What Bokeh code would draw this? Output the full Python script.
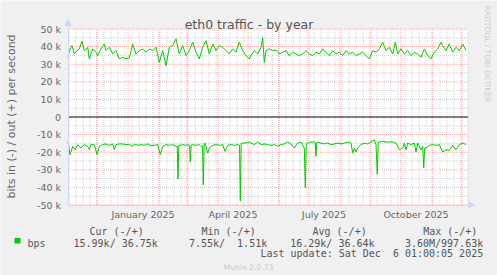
import math
import pandas as pd
from bokeh.plotting import figure
from bokeh.models import (Range1d, FixedTicker, Label, Arrow,
                          NormalHead, BoxAnnotation, ColumnDataSource)
from bokeh.embed import file_html
from bokeh.resources import INLINE

# ---------------- data ----------------
START = "2024-11-02"
N_DAYS = 400

out_day = [0, 1.3, 3, 4, 6.3, 9, 11.3, 14, 16.3, 19.7, 21.3, 24.7, 28, 29.7, 33, 36.3, 38,
           41.3, 44.7, 48, 51.3, 54.7, 58, 61.3, 64.7, 68, 71.3, 74.7, 78, 81.3, 84.7, 88,
           91.3, 94.7, 98, 101.3, 104.7, 108, 111.3, 114.7, 118, 121.3, 124.7, 128, 131.3,
           134.7, 138, 141.3, 144.7, 148, 151.3, 154.7, 158, 161.3, 164.7, 168, 171.3, 174.7,
           178, 181.3, 183, 186.3, 189.7, 193, 194.7, 196.3, 198, 201.3, 204.7, 208, 211.3,
           214.7, 218, 221.3, 224.7, 228, 231.3, 234.7, 238, 241.3, 244.7, 248, 251.3, 254.7,
           258, 261.3, 264.7, 268, 271.3, 274.7, 278, 281.3, 284.7, 288, 291.3, 294.7, 298,
           301.3, 304.7, 308, 311.3, 314.7, 318, 321.3, 324.7, 327.3, 329.7, 333, 336.3,
           339.7, 343, 346.3, 349.7, 353, 356.3, 359.7, 363, 366.3, 369.7, 373, 374.7, 378,
           381.3, 384.7, 388, 391.3, 394.7, 398]
out_kbps = [33.9, 37.7, 39.6, 40.6, 35.8, 37.7, 38.7, 43.0, 37.7, 39.6, 33.0, 38.7, 36.8, 34.9,
            38.7, 41.5, 37.7, 39.6, 35.8, 37.7, 33.0, 33.9, 33.0, 33.5, 41.5, 35.8, 37.7, 38.7,
            36.8, 38.7, 37.7, 39.6, 31.0, 37.7, 29.1, 39.6, 40.6, 44.4, 35.8, 40.6, 34.9, 37.7,
            42.5, 36.8, 33.0, 39.6, 43.4, 35.8, 41.5, 37.7, 40.6, 39.6, 37.7, 35.8, 38.7, 36.8,
            42.5, 37.7, 34.9, 33.0, 34.9, 37.7, 35.8, 39.6, 45.0, 31.0, 37.7, 38.7, 37.7, 38.1,
            35.8, 36.8, 37.7, 34.9, 36.8, 35.8, 34.9, 35.8, 37.7, 35.8, 34.9, 36.8, 35.8, 38.7,
            36.8, 34.9, 37.7, 35.8, 36.8, 34.9, 37.7, 35.8, 36.8, 34.9, 35.8, 36.8, 34.9, 33.0,
            37.7, 36.8, 38.7, 42.5, 37.7, 39.6, 35.8, 42.5, 35.8, 38.7, 35.8, 37.7, 34.9, 36.8,
            35.8, 33.9, 38.7, 34.9, 33.0, 36.8, 38.7, 42.5, 40.6, 37.7, 41.5, 36.8, 39.6, 37.7,
            41.5, 37.7]

in_day = [0, 2, 4.7, 7, 9.7, 13, 16.3, 19.7, 21.3, 23, 26.3, 29, 31.3, 34.7, 38, 41.3, 44.7,
          46.3, 48, 51.3, 54.7, 58, 61.3, 64.7, 66.3, 69.7, 73, 76.3, 79.7, 83, 86.3, 89.7,
          92.3, 94.7, 98, 101.3, 104.7, 108, 109.2, 110, 110.8, 112, 114.7, 118, 120.3, 121.5,
          122.3, 123.2, 124.7, 128, 131.3, 133, 134.5, 135.3, 136.2, 137, 139.7, 141.3, 144.7,
          148, 151.3, 154.7, 157, 159.7, 163, 166.3, 169.7, 171.5, 172.3, 173.2, 174.7, 178,
          181.3, 183, 186.3, 189.7, 193, 196.3, 199.7, 203, 206.3, 209.7, 213, 216.3, 219.7,
          223, 226.3, 229.7, 233, 236.3, 237.3, 238.3, 239.7, 243, 246.3, 247.2, 248, 248.8,
          249.7, 253, 256.3, 259.7, 263, 266.3, 269.7, 273, 276.3, 279.7, 283, 284.7, 286.3,
          288, 289.7, 293, 296.3, 299.7, 303, 306.3, 308, 309.3, 310.3, 311.3, 314.7, 318,
          321.3, 324.7, 328, 331.3, 334.7, 336.3, 338, 339.7, 343, 346.3, 348, 349.7, 353,
          354.7, 355.7, 356.7, 358, 361.3, 364.7, 368, 371.3, 374.7, 378, 381.3, 384.7, 388,
          391.3, 394.7, 398]
in_kbps = [13.8, 21.4, 16.7, 18.6, 15.7, 17.6, 15.7, 16.7, 18.6, 15.7, 15.7, 21.4, 16.7, 15.7,
           15.3, 16.1, 15.3, 18.6, 15.7, 15.3, 15.3, 15.7, 15.7, 16.7, 15.3, 16.1, 15.7, 16.1,
           15.3, 16.3, 16.1, 15.7, 21.4, 16.7, 15.7, 16.1, 15.7, 16.7, 16.4, 35.1, 16.2, 16.1,
           15.7, 16.1, 15.7, 16.0, 25.6, 16.0, 15.7, 16.1, 15.7, 16.7, 16.5, 38.6, 15.0, 14.8,
           20.5, 17.6, 16.1, 15.7, 16.1, 15.7, 19.5, 16.1, 15.7, 16.1, 15.7, 16.0, 47.7, 15.0,
           14.8, 14.8, 14.2, 14.8, 15.7, 14.2, 15.7, 15.3, 15.7, 16.1, 15.7, 16.7, 15.7, 15.3,
           14.2, 15.3, 17.6, 14.8, 14.2, 17.6, 40.1, 15.0, 14.8, 14.2, 14.2, 14.5, 22.4, 14.5,
           14.2, 14.8, 15.3, 14.8, 15.7, 15.3, 14.8, 15.3, 14.8, 14.2, 14.8, 20.5, 17.6, 19.9,
           17.6, 15.7, 14.8, 15.3, 14.2, 12.9, 15.7, 32.5, 14.2, 14.2, 13.8, 14.2, 14.2, 14.2,
           14.8, 18.6, 17.6, 14.8, 18.6, 14.8, 15.7, 14.8, 19.9, 14.8, 18.6, 16.7, 29.0, 17.6,
           17.6, 16.1, 15.7, 16.1, 15.7, 19.9, 18.6, 19.1, 16.1, 18.6, 15.7, 14.8, 15.7]

y_tick_k = [-50, -40, -30, -20, -10, 0, 10, 20, 30, 40, 50]
y_tick_labels = ["-50 k", "-40 k", "-30 k", "-20 k", "-10 k", "0",
                 "10 k", "20 k", "30 k", "40 k", "50 k"]
x_label_months = ["2025-01-01", "2025-04-01", "2025-07-01", "2025-10-01"]
x_label_texts = ["January 2025", "April 2025", "July 2025", "October 2025"]

title_text = "eth0 traffic - by year"
y_label_text = "bits in (-) / out (+) per second"
series_name = "bps"
legend_headers = ["Cur (-/+)", "Min (-/+)", "Avg (-/+)", "Max (-/+)"]
legend_values = ["15.99k/ 36.75k", "7.55k/\u00a0 1.51k", "16.29k/ 36.64k", "3.60M/997.63k"]
last_update_text = "Last update: Sat Dec \u00a06 01:00:05 2025"
watermark_text = "RRDTOOL / TOBI OETIKER"
munin_text = "Munin 2.0.73"

# ---------------- geometry ----------------
DAY_MS = 86400000.0


def ms(ts):
    return (pd.Timestamp(ts) - pd.Timestamp(0)) / pd.Timedelta(milliseconds=1)


W, H = 497, 275
FL, FR, FT, FB = 67, 467, 28, 204   # plot-area edges in canvas pixels
Y_MIN, Y_MAX = -50000, 50000

t0 = ms(START)
t1 = t0 + N_DAYS * DAY_MS
ms_per_px = (t1 - t0) / (FR - FL)
v_per_px = (Y_MAX - Y_MIN) / (FB - FT)

# the frame covers the whole canvas; the plot area is a sub-rectangle of it
# (half-pixel shift so that 1 px lines fall on pixel centres)
x_lo = t0 - (FL + 0.5) * ms_per_px
x_hi = x_lo + W * ms_per_px
y_hi = Y_MAX + (FT + 0.5) * v_per_px
y_lo = y_hi - H * v_per_px

GREEN = "#00cc00"
AXIS_COL = "#cfd6f8"
TXT = "#666666"
LEG = "#555555"

p = figure(width=W, height=H, x_axis_type="datetime",
           x_range=Range1d(x_lo, x_hi), y_range=Range1d(y_lo, y_hi),
           output_backend="svg", toolbar_location=None,
           min_border=0, min_border_left=0, min_border_right=0,
           min_border_top=0, min_border_bottom=0,
           background_fill_color="#f0f0f0", border_fill_color="#f0f0f0")
p.outline_line_color = None
p.xgrid.visible = False
p.ygrid.visible = False

# white canvas of the plot area
p.add_layout(BoxAnnotation(left=t0, right=t1, bottom=Y_MIN, top=Y_MAX,
                           fill_color="#ffffff", fill_alpha=1.0, line_color=None,
                           level="image"))

# grid lines, limited to the plot area
month_ms = [ms(d) for d in pd.date_range("2024-12-01", "2025-12-01", freq="MS")]
week_ms = [ms(d) for d in pd.date_range(START, pd.Timestamp(START) + pd.Timedelta(days=N_DAYS),
                                         freq="W-SUN")]
minor_y = [v * 1000 for v in range(-45, 50, 10)]
major_y = [v * 1000 for v in y_tick_k]


def vgrid(xs, **kw):
    n = len(xs)
    p.segment(x0=xs, y0=[Y_MIN] * n, x1=xs, y1=[Y_MAX] * n, level="underlay", **kw)


def hgrid(ys, **kw):
    n = len(ys)
    p.segment(x0=[t0] * n, y0=ys, x1=[t1] * n, y1=ys, level="underlay", **kw)


GRAY_GRID = "#b4b4b4"
RED_GRID = "#ff0000"
vgrid(week_ms, line_color=GRAY_GRID, line_alpha=0.6, line_dash="1 1")
hgrid(minor_y, line_color=GRAY_GRID, line_alpha=0.6, line_dash="1 1")
vgrid(month_ms, line_color=RED_GRID, line_alpha=0.35, line_dash="1 1")
hgrid([y for y in major_y if y != 0], line_color=RED_GRID, line_alpha=0.35, line_dash="1 1")

# data
src_out = ColumnDataSource(dict(x=[t0 + d * DAY_MS for d in out_day],
                                y=[v * 1000 for v in out_kbps]))
src_in = ColumnDataSource(dict(x=[t0 + d * DAY_MS for d in in_day],
                               y=[-v * 1000 for v in in_kbps]))
p.line("x", "y", source=src_out, line_color=GREEN, line_width=1)
p.line("x", "y", source=src_in, line_color=GREEN, line_width=1)

# zero line
hgrid([0], line_color="#000000", line_width=1)

# axes (placed at the plot-area edges)
label_ms = [ms(m) + 15 * DAY_MS for m in x_label_months]
xa = p.xaxis[0]
ya = p.yaxis[0]
xa.fixed_location = Y_MIN
ya.fixed_location = t0
xa.bounds = (t0, t1)
ya.bounds = (Y_MIN, Y_MAX)
xa.ticker = FixedTicker(ticks=label_ms)
xa.major_label_overrides = {k: t for k, t in zip(label_ms, x_label_texts)}
ya.ticker = FixedTicker(ticks=major_y)
ya.major_label_overrides = {k: t for k, t in zip(major_y, y_tick_labels)}
for ax in (xa, ya):
    ax.axis_line_color = AXIS_COL
    ax.major_tick_line_color = None
    ax.minor_tick_line_color = None
    ax.major_tick_out = 0
    ax.major_tick_in = 0
    ax.major_label_text_font = "DejaVu Sans"
    ax.major_label_text_font_size = "9.5px"
    ax.major_label_text_color = TXT
ya.major_label_standoff = 7
xa.major_label_standoff = 4

# axis arrows
p.add_layout(Arrow(end=NormalHead(size=6, fill_color=AXIS_COL, line_color=AXIS_COL),
                   x_start=t0, y_start=Y_MAX, x_end=t0, y_end=Y_MAX + 9.5 * v_per_px,
                   line_color=AXIS_COL))
p.add_layout(Arrow(end=NormalHead(size=6, fill_color=AXIS_COL, line_color=AXIS_COL),
                   x_start=t1, y_start=Y_MIN, x_end=t1 + 6.5 * ms_per_px, y_end=Y_MIN,
                   line_color=AXIS_COL))


def lab(text, X, Y, size, font="DejaVu Sans", color=TXT, align="left",
        baseline="alphabetic", angle=0.0):
    p.add_layout(Label(x=X, y=H - Y, x_units="screen", y_units="screen",
                       text=text, text_font=font, text_font_size=size,
                       text_color=color, text_align=align,
                       text_baseline=baseline, angle=angle))


lab(title_text, 248.5, 24, "12.5px", color="#555555", align="center")
lab(y_label_text, 11, 116, "11px", align="center", baseline="middle", angle=math.pi / 2)
lab(watermark_text, 487, 5, "7.5px", color="#cccccc", align="left",
    baseline="middle", angle=-math.pi / 2)

MONO = "DejaVu Sans Mono"
hdr_x = [89, 201, 312, 422.7]
val_right = [157.3, 266.7, 374, 482.7]
for t, X in zip(legend_headers, hdr_x):
    lab(t, X, 231, "10px", font=MONO, color=LEG)
lab(series_name, 27, 243.3, "10px", font=MONO, color=LEG)
for t, X in zip(legend_values, val_right):
    lab(t, X, 243.3, "10px", font=MONO, color=LEG, align="right")
lab(last_update_text, 482.7, 253.3, "10px", font=MONO, color=LEG, align="right")
lab(munin_text, 248, 266.5, "7.6px", color="#c8c8c8", align="center")

p.add_layout(BoxAnnotation(left=14, right=20, top=H - 237.5, bottom=H - 243,
                           left_units="screen", right_units="screen",
                           top_units="screen", bottom_units="screen",
                           fill_color=GREEN, fill_alpha=1.0, line_color=None))

open("out.html", "w").write(file_html(p, INLINE))
